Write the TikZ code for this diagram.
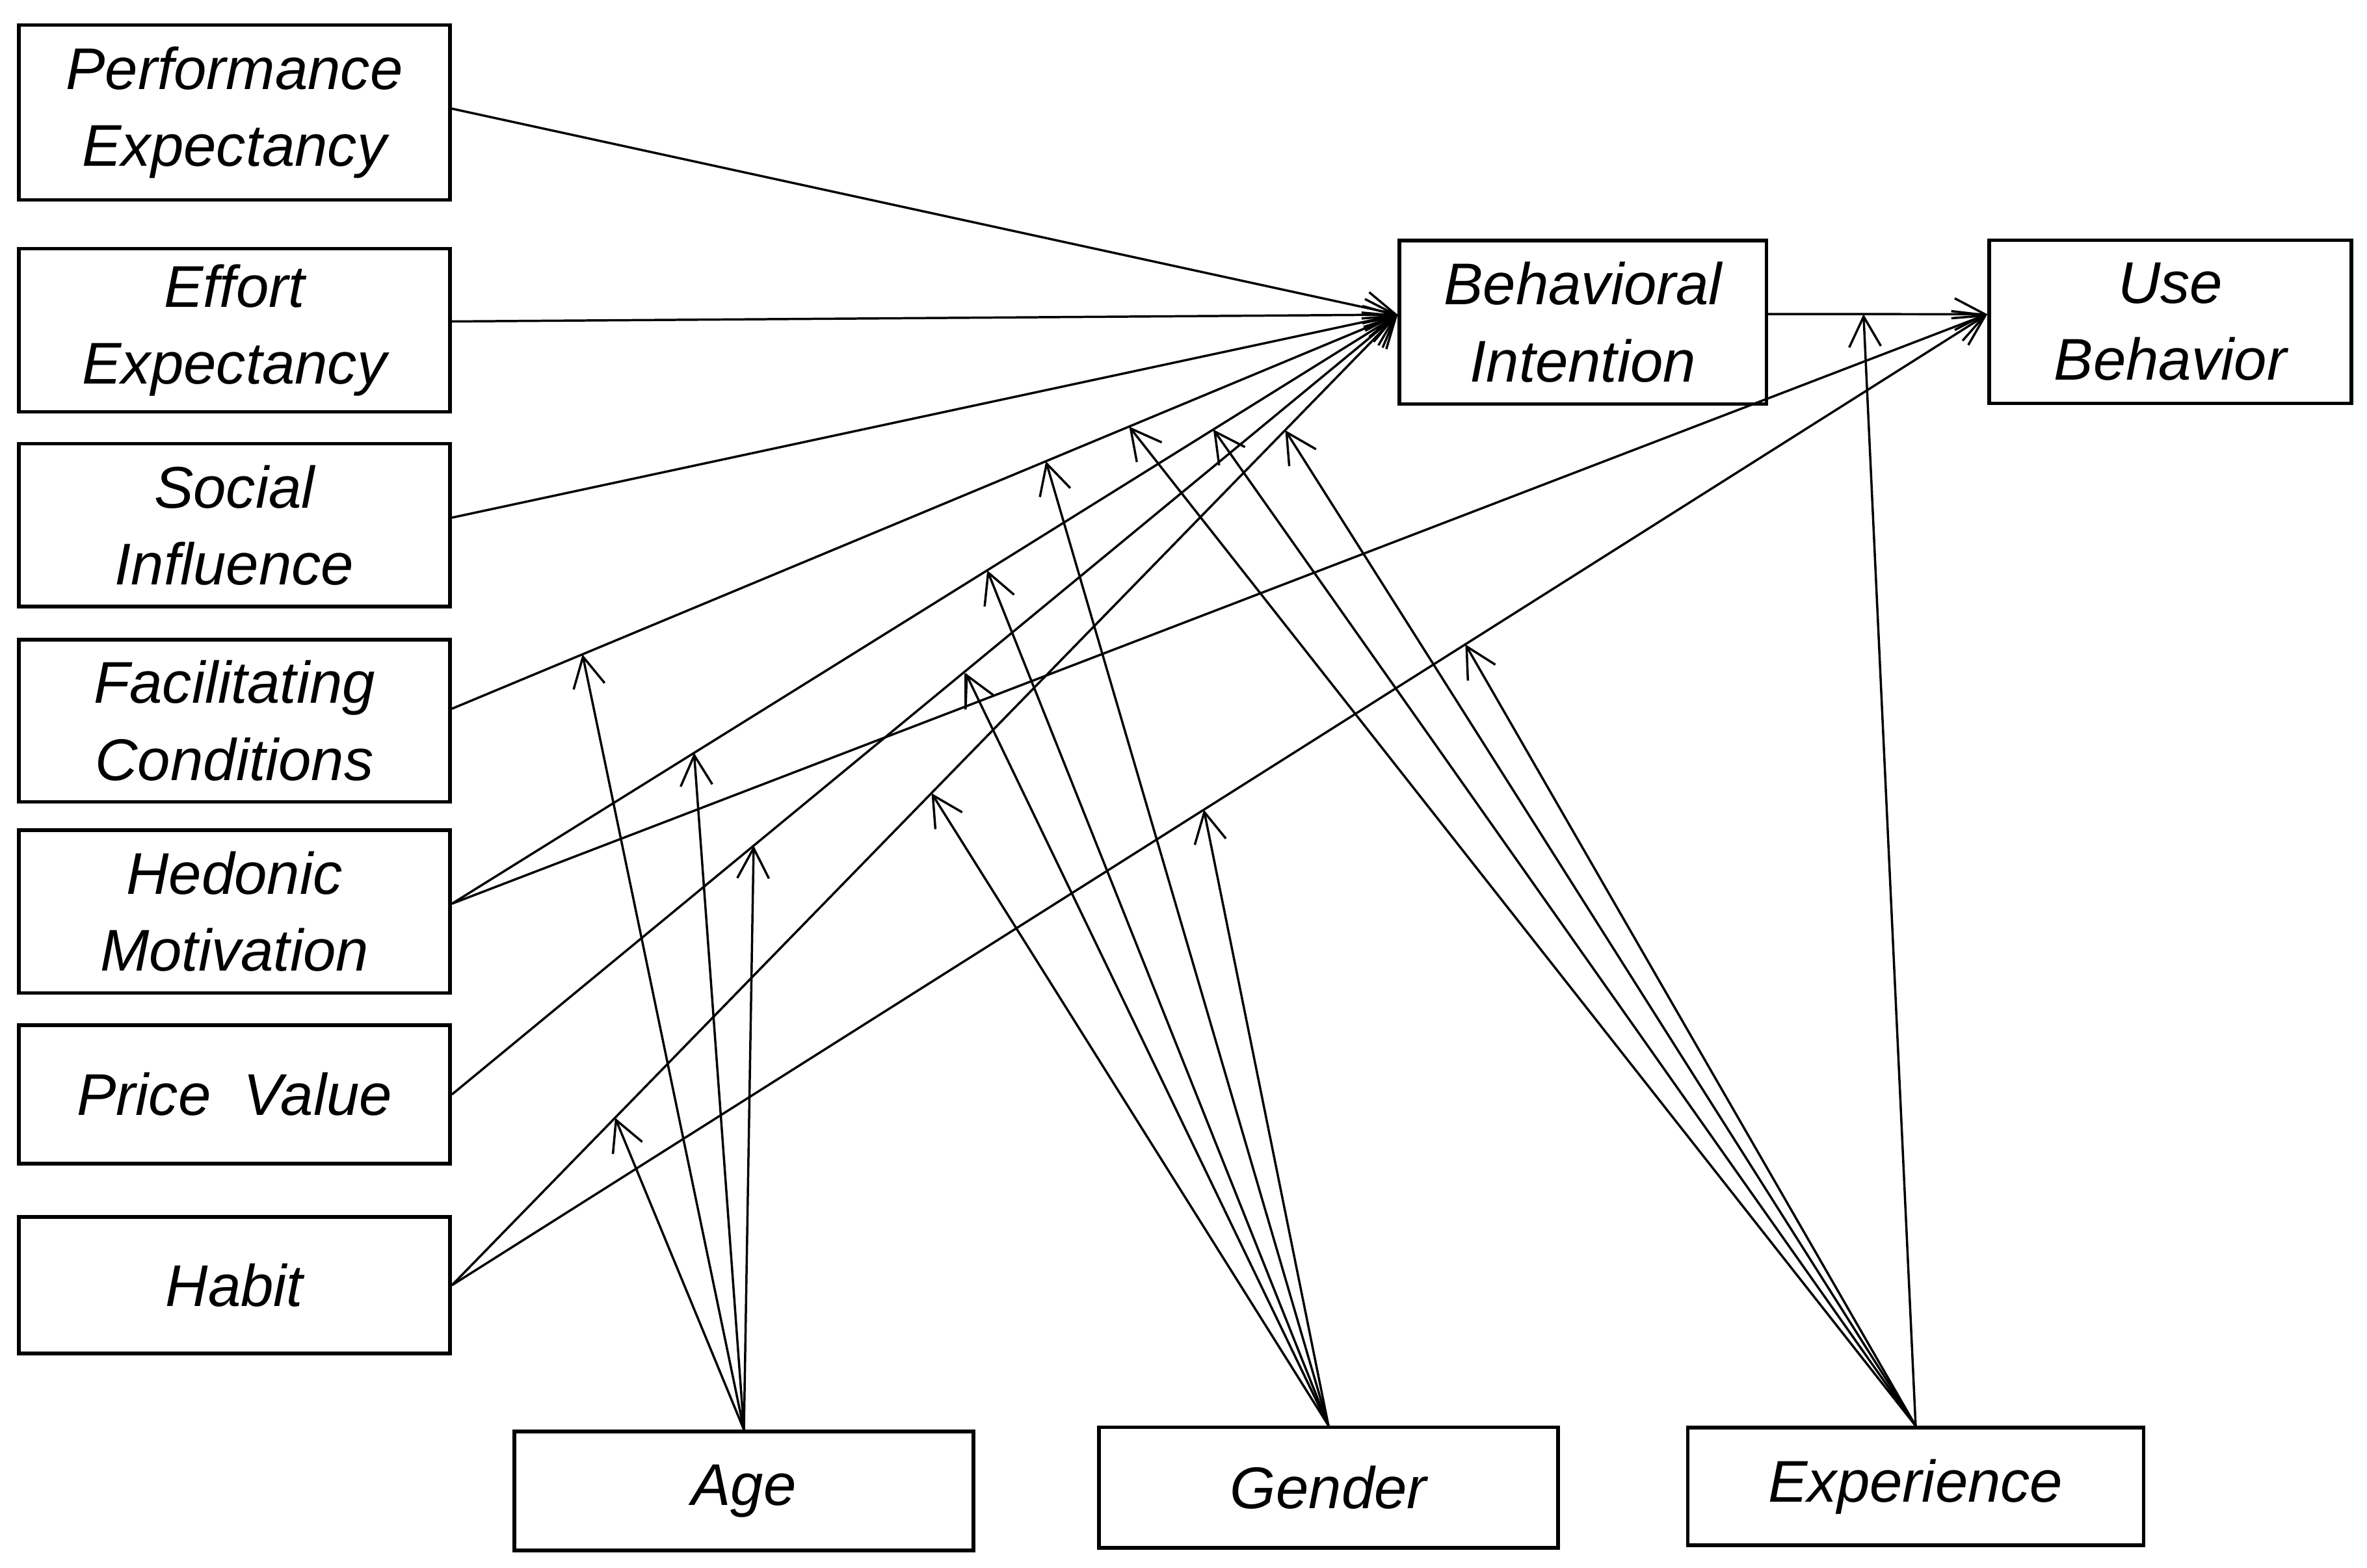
\documentclass[tikz,border=0pt]{standalone}
\usepackage{fontspec}
\setmainfont{Liberation Sans}
\usetikzlibrary{arrows.meta,calc}
\begin{document}
\begin{tikzpicture}[x=0.5pt,y=-0.5pt,
  box/.style={draw,line width=1.2pt,inner sep=0pt,align=center,
    font=\fontsize{19.5}{25.5}\selectfont\itshape},
  link/.style={line width=0.75pt,-{Straight Barb[length=10pt,width=10.5pt,line width=0.75pt]}},
  plain/.style={line width=0.75pt}
]
\useasboundingbox[fill=white] (0,0) rectangle (1568,1039);
% constructs
\node[box,minimum width=142.9pt,minimum height=58pt] (PE) at (155.3,74.5) {Performance\\Expectancy};
\node[box,minimum width=142.9pt,minimum height=54pt] (EE) at (155.3,218.8) {Effort\\Expectancy};
\node[box,minimum width=142.9pt,minimum height=54pt] (SI) at (155.3,348) {Social\\Influence};
\node[box,minimum width=142.9pt,minimum height=53.8pt] (FC) at (155.3,477.6) {Facilitating\\Conditions};
\node[box,minimum width=142.9pt,minimum height=54pt] (HM) at (155.3,604) {Hedonic\\Motivation};
\node[box,minimum width=142.9pt,minimum height=45.8pt] (PV) at (155.3,725.2) {Price\ \ Value};
\node[box,minimum width=142.9pt,minimum height=45.3pt] (HT) at (155.3,851.6) {Habit};
\node[box,minimum width=121.5pt,minimum height=54.2pt] (BI) at (1048.6,213.5) {Behavioral\\Intention};
\node[box,minimum width=120pt,minimum height=54pt] (UB) at (1437.7,213.2) {Use\\Behavior};
\node[box,minimum width=152.1pt,minimum height=39.4pt] (AG) at (492.8,988) {Age};
\node[box,minimum width=152pt,minimum height=39.9pt] (GE) at (880,985.7) {Gender};
\node[box,minimum width=151pt,minimum height=39pt] (EX) at (1269,985) {Experience};
% anchor points
\coordinate (PEs) at ([yshift=1.25pt]PE.east);
\coordinate (EEs) at ([yshift=2.9pt]EE.east);
\coordinate (SIs) at ([yshift=2.5pt]SI.east);
\coordinate (FCs) at ([yshift=4pt]FC.east);
\coordinate (HMs) at ([yshift=2.6pt]HM.east);
\coordinate (PVs) at (PV.east);
\coordinate (HTs) at (HT.east);
\coordinate (BIin) at ([yshift=2.5pt]BI.west);
\coordinate (BIout) at ([yshift=2.7pt]BI.east);
\coordinate (UBin) at ([yshift=2.5pt]UB.west);
% main paths
\draw[link] (PEs) -- (BIin);
\draw[link] (EEs) -- (BIin);
\draw[link] (SIs) -- (BIin);
\draw[link] (FCs) -- (BIin);
\draw[link] (HMs) -- (BIin);
\draw[link] (PVs) -- (BIin);
\draw[link] (HTs) -- (BIin);
\draw[link] (HMs) -- (UBin);
\draw[link] (HTs) -- (UBin);
\draw[link] (BIout) -- (UBin);
% moderation targets
\coordinate (aFC) at ($(FCs)!0.138!(BIin)$);
\coordinate (gFC) at ($(FCs)!0.628!(BIin)$);
\coordinate (eFC) at ($(FCs)!0.716!(BIin)$);
\coordinate (aHM) at ($(HMs)!0.256!(BIin)$);
\coordinate (gHM) at ($(HMs)!0.566!(BIin)$);
\coordinate (eHM) at ($(HMs)!0.805!(BIin)$);
\coordinate (aPV) at ($(PVs)!0.319!(BIin)$);
\coordinate (aHT) at ($(HTs)!0.1725!(BIin)$);
\coordinate (gHT) at ($(HTs)!0.507!(BIin)$);
\coordinate (eHT) at ($(HTs)!0.881!(BIin)$);
\coordinate (gHMUline) at ($(HMs)!0.3346!(UBin)$);
\coordinate (gHMU) at ([yshift=11pt]gHMUline);
\coordinate (gHTU) at ($(HTs)!0.4897!(UBin)$);
\coordinate (eHTU) at ($(HTs)!0.660!(UBin)$);
\coordinate (eBIU) at ($(BIout)!0.435!(UBin)$);
% age
\draw[link] (AG.north) -- (aFC);
\draw[link] (AG.north) -- (aHM);
\draw[link] (AG.north) -- (aPV);
\draw[link] (AG.north) -- (aHT);
% gender
\draw[link] (GE.north) -- (gFC);
\draw[link] (GE.north) -- (gHM);
\draw[link] (GE.north) -- (gHMU);
\draw[plain] (gHMU) -- (gHMUline);
\draw[link] (GE.north) -- (gHT);
\draw[link] (GE.north) -- (gHTU);
% experience
\draw[link] (EX.north) -- (eFC);
\draw[link] (EX.north) -- (eHM);
\draw[link] (EX.north) -- (eHT);
\draw[link] (EX.north) -- (eHTU);
\draw[link] (EX.north) -- (eBIU);
\end{tikzpicture}
\end{document}
